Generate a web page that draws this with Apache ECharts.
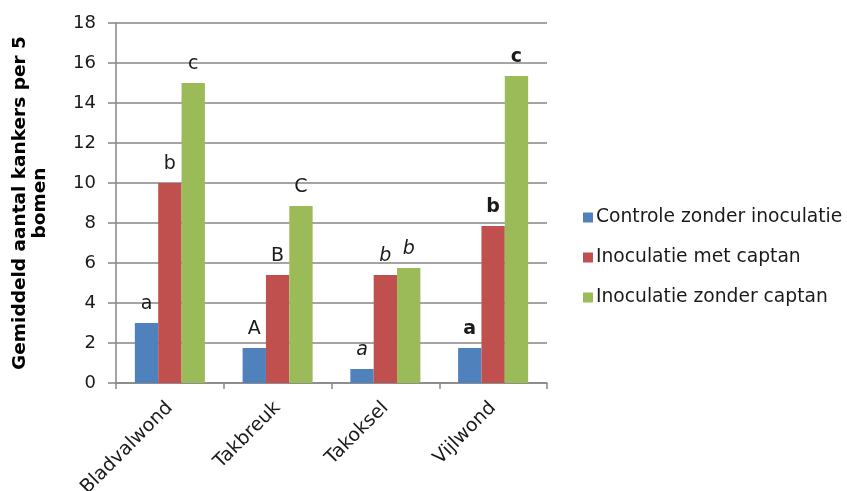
<!DOCTYPE html>
<html>
<head>
<meta charset="utf-8">
<script src="https://cdn.jsdelivr.net/npm/echarts@6/dist/echarts.min.js"></script>
<style>
  html, body { margin: 0; padding: 0; background: #fff; }
  #chart { width: 847px; height: 491px; }
</style>
</head>
<body>
<div id="chart"></div>
<script>
// Wound types on the x axis
const categories = ['Bladvalwond', 'Takbreuk', 'Takoksel', 'Vijlwond'];

// Mean number of cankers per 5 trees
const controleZonderInoculatie = [3.0, 1.75, 0.7, 1.75];
const inoculatieMetCaptan = [10.0, 5.4, 5.4, 7.85];
const inoculatieZonderCaptan = [15.0, 8.85, 5.75, 15.35];

// Significance letters drawn above each bar
const lettersControle = ['a', 'A', 'a', 'a'];
const lettersMetCaptan = ['b', 'B', 'b', 'b'];
const lettersZonderCaptan = ['c', 'C', 'b', 'c'];

const seriesNames = ['Controle zonder inoculatie', 'Inoculatie met captan', 'Inoculatie zonder captan'];

// Y axis ticks
const yMin = 0, yMax = 18, yStep = 2;

const FONT = 'DejaVu Sans';
const GREY = '#868686';

// Each wound type uses its own letter style
const letterStyle = [
  { fontStyle: 'normal', fontWeight: 'normal' },
  { fontStyle: 'normal', fontWeight: 'normal' },
  { fontStyle: 'italic', fontWeight: 'normal' },
  { fontStyle: 'normal', fontWeight: 'bold' }
];

function barData(values, letters) {
  return values.map((v, i) => ({
    value: v,
    label: {
      formatter: letters[i],
      fontStyle: letterStyle[i].fontStyle,
      fontWeight: letterStyle[i].fontWeight
    }
  }));
}

function makeSeries(name, values, letters, color) {
  return {
    name: name,
    type: 'bar',
    barGap: '0%',
    barCategoryGap: '35%',
    itemStyle: { color: color },
    label: {
      show: true,
      position: 'top',
      distance: 9,
      color: '#1a1a1a',
      fontFamily: FONT,
      fontSize: 19
    },
    data: barData(values, letters)
  };
}

const chart = echarts.init(document.getElementById('chart'), null, { renderer: 'canvas' });
chart.setOption({
  animation: false,
  textStyle: { fontFamily: FONT },
  grid: { left: 116, right: 300, top: 23, bottom: 108, containLabel: false, outerBoundsMode: 'none' },
  legend: {
    orient: 'vertical',
    left: 578,
    top: 203,
    itemWidth: 10,
    itemHeight: 10,
    itemGap: 21,
    icon: 'rect',
    textStyle: { fontFamily: FONT, fontSize: 18.7, color: '#1a1a1a', padding: [0, 0, 0, -2] },
    data: seriesNames
  },
  xAxis: {
    type: 'category',
    data: categories,
    axisLine: { lineStyle: { color: GREY, width: 1.5 } },
    axisTick: { show: true, length: 6, alignWithLabel: false, lineStyle: { color: GREY, width: 1.5 } },
    axisLabel: {
      rotate: 45,
      margin: 22,
      color: '#1a1a1a',
      fontFamily: FONT,
      fontSize: 19
    }
  },
  yAxis: {
    type: 'value',
    min: yMin,
    max: yMax,
    interval: yStep,
    name: 'Gemiddeld aantal kankers per 5\nbomen',
    nameLocation: 'middle',
    nameRotate: 90,
    nameGap: 66,
    nameTextStyle: {
      fontFamily: FONT,
      fontSize: 18.5,
      fontWeight: 'bold',
      color: '#000',
      lineHeight: 20,
      align: 'center'
    },
    axisLine: { show: true, lineStyle: { color: GREY, width: 1.5 } },
    axisTick: { show: true, inside: false, length: 8, lineStyle: { color: GREY, width: 1.5 } },
    axisLabel: { margin: 20, color: '#1a1a1a', fontFamily: FONT, fontSize: 18 },
    splitLine: { show: true, lineStyle: { color: GREY, width: 1.5 } }
  },
  series: [
    makeSeries(seriesNames[0], controleZonderInoculatie, lettersControle, '#4F81BD'),
    makeSeries(seriesNames[1], inoculatieMetCaptan, lettersMetCaptan, '#C0504D'),
    makeSeries(seriesNames[2], inoculatieZonderCaptan, lettersZonderCaptan, '#9BBB59')
  ]
});
</script>
</body>
</html>
